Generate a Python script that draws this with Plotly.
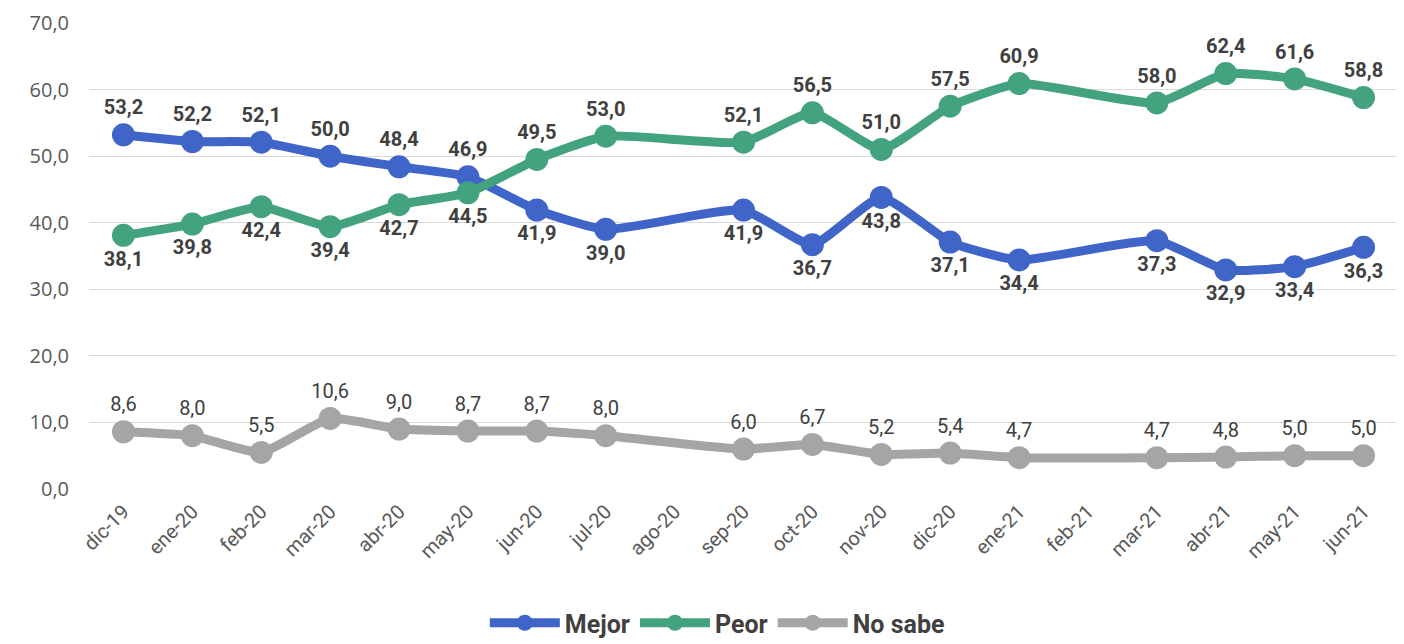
import plotly.graph_objects as go

months = ["dic-19", "ene-20", "feb-20", "mar-20", "abr-20", "may-20", "jun-20", "jul-20", "ago-20",
          "sep-20", "oct-20", "nov-20", "dic-20", "ene-21", "feb-21", "mar-21", "abr-21", "may-21", "jun-21"]
mejor = [53.2, 52.2, 52.1, 50.0, 48.4, 46.9, 41.9, 39.0, None, 41.9, 36.7, 43.8, 37.1, 34.4, None, 37.3, 32.9, 33.4, 36.3]
peor = [38.1, 39.8, 42.4, 39.4, 42.7, 44.5, 49.5, 53.0, None, 52.1, 56.5, 51.0, 57.5, 60.9, None, 58.0, 62.4, 61.6, 58.8]
no_sabe = [8.6, 8.0, 5.5, 10.6, 9.0, 8.7, 8.7, 8.0, None, 6.0, 6.7, 5.2, 5.4, 4.7, None, 4.7, 4.8, 5.0, 5.0]
y_ticks = [0, 10, 20, 30, 40, 50, 60, 70]

NARROW = "Roboto, sans-serif"


def fmt(v):
    return "" if v is None else f"{v:.1f}".replace(".", ",")


def positions(vals, first_pos, rest_pos, n_first=6):
    return [first_pos if i < n_first else rest_pos for i in range(len(vals))]


fig = go.Figure()

series = [
    ("Mejor", mejor, "#3F65C8", positions(mejor, "top center", "bottom center"), True),
    ("Peor", peor, "#44A37F", positions(peor, "bottom center", "top center"), True),
    ("No sabe", no_sabe, "#A5A5A5", ["top center"] * len(no_sabe), False),
]

for name, vals, color, tpos, bold in series:
    fig.add_trace(go.Scatter(
        x=months, y=vals, name=name,
        mode="lines+markers+text",
        connectgaps=True,
        line=dict(color=color, width=9, shape="spline", smoothing=0.5),
        marker=dict(color=color, size=23),
        text=[fmt(v) for v in vals],
        textposition=tpos,
        textfont=dict(family=NARROW, size=20, color="#404040",
                      weight="bold" if bold else "normal"),
        cliponaxis=False,
    ))

fig.update_layout(
    width=1404, height=644,
    margin=dict(l=81, r=14, t=15, b=163, autoexpand=False),
    paper_bgcolor="white", plot_bgcolor="white",
    showlegend=True,
    legend=dict(orientation="h", x=0.48, xanchor="center",
                yref="container", y=0.045, yanchor="middle",
                font=dict(family=NARROW, size=25, color="#404040", weight="bold"),
                itemwidth=70, tracegroupgap=0),
    xaxis=dict(type="category", categoryorder="array", categoryarray=months,
               range=[-0.5, 18.5], automargin=False,
               tickangle=-45, tickfont=dict(family=NARROW, size=20, color="#595959"),
               ticklabelstandoff=6,
               showgrid=False, zeroline=False, showline=False, ticks=""),
    yaxis=dict(range=[0, 70], tickvals=y_ticks, ticktext=[fmt(float(t)) for t in y_ticks],
               automargin=False,
               tickfont=dict(family="Open Sans, sans-serif", size=20, color="#595959"),
               showgrid=True, gridcolor="#D9D9D9", gridwidth=1, zeroline=False,
               showline=False, ticks="", ticklabelstandoff=19),
)

fig.write_html("out.html")
